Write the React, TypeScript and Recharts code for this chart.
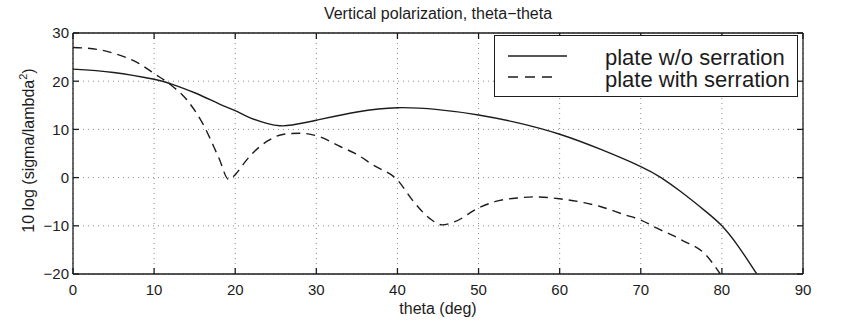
import React from 'react';
import { LineChart, Line, XAxis, YAxis, CartesianGrid } from 'recharts';

// plate w/o serration (solid)
const SOLID_THETA = [0, 5, 10, 12, 15, 18, 20, 22, 24, 25.5, 27, 30, 35, 40, 45, 50, 55, 60, 65, 70, 72.5, 75, 78, 80, 82, 84.3];
const SOLID_DB = [22.5, 21.8, 20.4, 19.5, 17.6, 15.3, 13.9, 12.3, 11.2, 10.75, 10.9, 11.9, 13.6, 14.5, 14.1, 13.0, 11.3, 9.0, 5.9, 2.3, 0, -3.0, -7.0, -10.0, -14.2, -20];

// plate with serration (dashed)
const DASHED_THETA = [0, 3, 5, 8, 10, 12, 14, 16, 18, 19.2, 20, 21, 22, 24, 26, 28, 30, 33, 35, 37, 40, 42, 44, 45.5, 47, 50, 52, 55, 57, 60, 63, 65, 68, 70, 72, 75, 78, 79.8];
const DASHED_DB = [27.0, 26.6, 25.8, 23.8, 21.6, 19.3, 16.2, 11.2, 4.0, -0.4, 0.6, 2.8, 4.8, 7.6, 9.0, 9.2, 8.7, 6.4, 4.8, 2.6, -0.5, -5.0, -8.5, -9.8, -9.2, -6.3, -5.0, -4.2, -4.0, -4.4, -5.2, -6.0, -7.7, -8.8, -10.5, -12.9, -16.0, -20];

const X_TICKS = [0, 10, 20, 30, 40, 50, 60, 70, 80, 90];
const Y_TICKS = [-20, -10, 0, 10, 20, 30];
const SERIES_NAMES = ['plate w/o serration', 'plate with serration'];
const TITLE = 'Vertical polarization, theta\u2212theta';
const X_LABEL = 'theta (deg)';

const INK = '#1c1c1c';
const FONT = '"Liberation Sans", Arial, Helvetica, sans-serif';

const solidData = SOLID_THETA.map((theta, i) => ({ theta, db: SOLID_DB[i] }));
const dashedData = DASHED_THETA.map((theta, i) => ({ theta, db: DASHED_DB[i] }));

const fmt = (v: number) => String(v).replace('-', '\u2212');
const noLabel = () => <g />;

function TitleLabel({ viewBox }: any) {
  return (
    <text x={viewBox.x + viewBox.width / 2} y={19} textAnchor="middle" fontSize={16} fill={INK} fontFamily={FONT}>
      {TITLE}
    </text>
  );
}

function XLabel({ viewBox }: any) {
  return (
    <text x={viewBox.x + viewBox.width / 2} y={viewBox.y + 40} textAnchor="middle" fontSize={16} fill={INK} fontFamily={FONT}>
      {X_LABEL}
    </text>
  );
}

function YLabel({ viewBox }: any) {
  const cy = viewBox.y + viewBox.height / 2 - 3;
  return (
    <text transform={`translate(34, ${cy}) rotate(-90)`} textAnchor="middle" fontSize={16} fill={INK} fontFamily={FONT}>
      10 log (sigma/lambda
      <tspan fontSize={11} dy={-7}>2</tspan>
      <tspan dy={7}>)</tspan>
    </text>
  );
}

function LegendBox() {
  return (
    <div
      style={{
        position: 'absolute',
        left: 494,
        top: 35,
        width: 304,
        height: 62,
        boxSizing: 'border-box',
        border: `1.3px solid ${INK}`,
        background: '#fff',
      }}
    >
      <svg width={302} height={60} style={{ display: 'block' }}>
        <line x1={13} x2={72} y1={20} y2={20} stroke={INK} strokeWidth={1.4} />
        <line x1={13} x2={64} y1={41} y2={41} stroke={INK} strokeWidth={1.4} strokeDasharray="10 7" />
        <text x={110} y={29} fontSize={22} fill={INK} fontFamily={FONT}>{SERIES_NAMES[0]}</text>
        <text x={110} y={51} fontSize={22} fill={INK} fontFamily={FONT}>{SERIES_NAMES[1]}</text>
      </svg>
    </div>
  );
}

export default function App() {
  const tickStyle = { fill: INK, fontSize: 15, fontFamily: FONT };
  const axisStroke = { stroke: INK, strokeWidth: 1.3 };
  return (
    <div style={{ position: 'absolute', left: 0, top: 0, width: 850, height: 331, background: '#fff', fontFamily: FONT }}>
      <LineChart width={850} height={331} data={solidData} margin={{ top: 27, right: 41, bottom: 26, left: 33 }}>
        <CartesianGrid stroke="#8a8a8a" strokeDasharray="1 4" />
        <XAxis
          dataKey="theta"
          type="number"
          domain={[0, 90]}
          ticks={X_TICKS}
          allowDataOverflow
          height={31}
          tickSize={-6}
          tickMargin={16}
          tick={tickStyle}
          axisLine={axisStroke}
          tickLine={axisStroke}
          label={<XLabel />}
        />
        <XAxis
          xAxisId="top"
          orientation="top"
          dataKey="theta"
          type="number"
          domain={[0, 90]}
          ticks={X_TICKS}
          allowDataOverflow
          height={6}
          tickSize={-6}
          tick={noLabel}
          axisLine={axisStroke}
          tickLine={axisStroke}
          label={<TitleLabel />}
        />
        <YAxis
          type="number"
          domain={[-20, 30]}
          ticks={Y_TICKS}
          allowDataOverflow
          width={40}
          tickSize={-6}
          tickMargin={10}
          tick={tickStyle}
          tickFormatter={fmt}
          axisLine={axisStroke}
          tickLine={axisStroke}
          label={<YLabel />}
        />
        <YAxis
          yAxisId="right"
          orientation="right"
          type="number"
          domain={[-20, 30]}
          ticks={Y_TICKS}
          allowDataOverflow
          width={6}
          tickSize={-6}
          tick={noLabel}
          axisLine={axisStroke}
          tickLine={axisStroke}
        />
        <Line
          data={solidData}
          dataKey="db"
          name={SERIES_NAMES[0]}
          type="natural"
          stroke={INK}
          strokeWidth={1.4}
          dot={false}
          isAnimationActive={false}
        />
        <Line
          data={dashedData}
          dataKey="db"
          name={SERIES_NAMES[1]}
          type="monotone"
          stroke={INK}
          strokeWidth={1.4}
          strokeDasharray="9 6"
          dot={false}
          isAnimationActive={false}
        />
      </LineChart>
      <LegendBox />
    </div>
  );
}
